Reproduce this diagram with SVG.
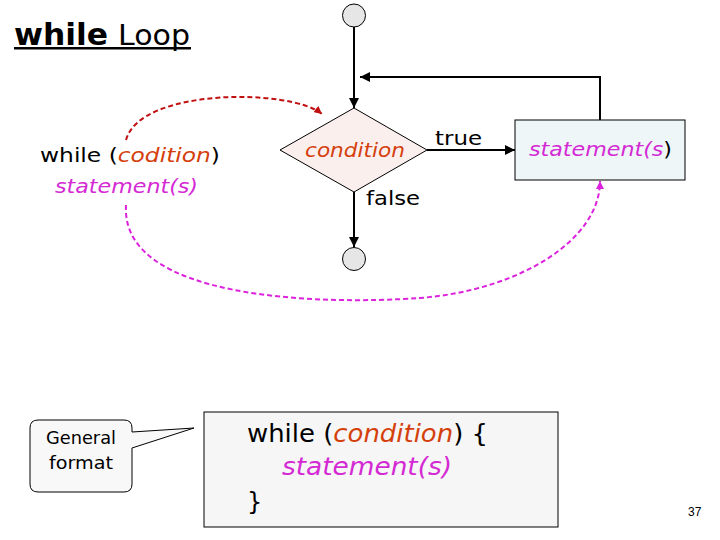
<svg xmlns="http://www.w3.org/2000/svg" width="720" height="540" viewBox="0 0 720 540">
<defs>
<style>
.c{font-family:"Comic Sans MS","DejaVu Sans","Noto Sans",sans-serif}
.blk{fill:#000}
.cond{fill:#d4400c;font-style:italic}
.stmt{fill:#d42ad4;font-style:italic}
.ln{stroke:#000;stroke-width:2;fill:none}
</style>
<marker id="ah" viewBox="0 0 10 10" refX="10" refY="5" markerWidth="5" markerHeight="5" orient="auto"><path d="M0,0L10,5L0,10z" fill="#000"/></marker>
<marker id="ahr" viewBox="0 0 10 10" refX="10" refY="5" markerWidth="4" markerHeight="4" orient="auto"><path d="M0,0L10,5L0,10z" fill="#c01010"/></marker>
<marker id="ahm" viewBox="0 0 10 10" refX="10" refY="5" markerWidth="4" markerHeight="4" orient="auto"><path d="M0,0L10,5L0,10z" fill="#dd22dd"/></marker>
</defs>
<rect width="720" height="540" fill="#fff"/>
<g id="title">
<text x="14" y="45" font-family="DejaVu Sans,Verdana,sans-serif" font-weight="bold" font-size="30" textLength="94" lengthAdjust="spacingAndGlyphs">while</text>
<text x="118" y="45" font-family="DejaVu Sans,Verdana,sans-serif" font-size="28" textLength="72" lengthAdjust="spacingAndGlyphs">Loop</text>
<rect x="14" y="47" width="177" height="2.5" fill="#000"/>
</g>
<g id="connectors">
<line class="ln" x1="354" y1="27" x2="354" y2="108" marker-end="url(#ah)"/>
<line class="ln" x1="427" y1="150" x2="515" y2="150" marker-end="url(#ah)"/>
<polyline class="ln" points="600,120 600,77 360,77" marker-end="url(#ah)"/>
<line class="ln" x1="354" y1="192" x2="354" y2="247" marker-end="url(#ah)"/>
<path d="M126,140 C140,88 290,88 322,114" fill="none" stroke="#c01010" stroke-width="2" stroke-dasharray="5,3" marker-end="url(#ahr)"/>
<path d="M126,205 C120,300 320,305 420,298 C520,290 600,240 600,181" fill="none" stroke="#dd22dd" stroke-width="2" stroke-dasharray="5,3" marker-end="url(#ahm)"/>
</g>
<g id="start"><circle cx="354" cy="15.5" r="11.5" fill="#e6e6e6" stroke="#000" stroke-width="1"/></g>
<g id="end"><circle cx="354" cy="259" r="11.5" fill="#e6e6e6" stroke="#000" stroke-width="1"/></g>
<g id="condition">
<polygon points="354,108 427,150 354,192 280,150" fill="#fbefee" stroke="#000" stroke-width="1"/>
<text class="c cond" x="355" y="157" font-size="20" text-anchor="middle" textLength="100" lengthAdjust="spacingAndGlyphs">condition</text>
</g>
<text class="c blk" x="435" y="145" font-size="20" textLength="47" lengthAdjust="spacingAndGlyphs">true</text>
<text class="c blk" x="366" y="205" font-size="20" textLength="54" lengthAdjust="spacingAndGlyphs">false</text>
<g id="statement">
<rect x="515" y="120" width="170" height="60" fill="#eef6f8" stroke="#000" stroke-width="1"/>
<text class="c" x="529" y="156" font-size="20" textLength="143" lengthAdjust="spacingAndGlyphs"><tspan class="stmt">statement(s</tspan><tspan class="blk">)</tspan></text>
</g>
<g id="syntax">
<text class="c" x="40" y="162" font-size="20" textLength="180" lengthAdjust="spacingAndGlyphs"><tspan class="blk">while (</tspan><tspan class="cond">codition</tspan><tspan class="blk">)</tspan></text>
<text class="c stmt" x="55" y="193" font-size="20" textLength="143" lengthAdjust="spacingAndGlyphs">statement(s)</text>
</g>
<g id="callout">
<path d="M38,420 H124 Q132,420 132,428 V432 L194,428 L132,448 V484 Q132,492 124,492 H38 Q30,492 30,484 V428 Q30,420 38,420 Z" fill="#f8f8f8" stroke="#000" stroke-width="1"/>
<text class="c blk" x="81" y="444" font-size="17" text-anchor="middle" textLength="70" lengthAdjust="spacingAndGlyphs">General</text>
<text class="c blk" x="81" y="469" font-size="17" text-anchor="middle" textLength="64" lengthAdjust="spacingAndGlyphs">format</text>
</g>
<g id="code">
<rect x="204" y="412" width="354" height="115" fill="#f6f6f6" stroke="#000" stroke-width="1"/>
<text class="c" x="247" y="442" font-size="24" textLength="241" lengthAdjust="spacingAndGlyphs"><tspan class="blk">while (</tspan><tspan class="cond">condition</tspan><tspan class="blk">) {</tspan></text>
<text class="c stmt" x="282" y="475" font-size="24" textLength="170" lengthAdjust="spacingAndGlyphs">statement(s)</text>
<text class="c blk" x="247" y="510" font-size="24">}</text>
</g>
<text x="688" y="516" font-family="Liberation Sans,Arial,sans-serif" font-size="12" fill="#000">37</text>
</svg>
